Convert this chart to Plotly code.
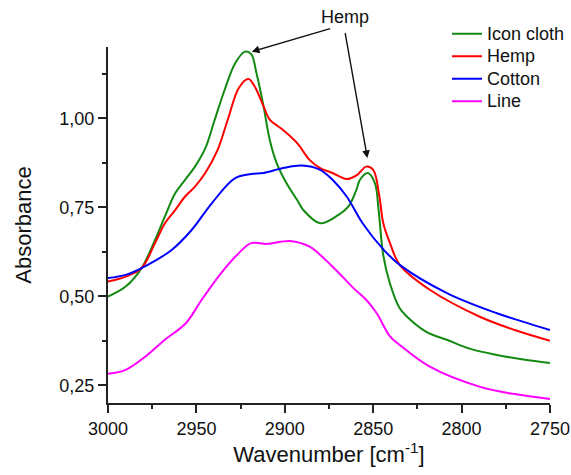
import plotly.graph_objects as go

# Data (wavenumber in cm^-1, absorbance)
icon_x = [3000, 2990, 2981, 2973.4, 2967.8, 2962, 2956.4, 2950.8, 2945, 2940, 2934, 2928, 2922.5, 2919, 2916, 2912,
          2908.5, 2904.6, 2899, 2893, 2889.5, 2880, 2871, 2864, 2859.5, 2857.5, 2853, 2849, 2847, 2844.3,
          2840.5, 2835, 2831, 2820, 2808, 2795, 2780, 2765, 2750]
icon_y = [0.499, 0.527, 0.579, 0.658, 0.724, 0.789, 0.827, 0.864, 0.915, 0.990, 1.080, 1.155, 1.187, 1.180, 1.126, 1.033,
          0.939, 0.874, 0.817, 0.770, 0.742, 0.705, 0.724, 0.752, 0.799, 0.827, 0.846, 0.817, 0.745, 0.615,
          0.535, 0.466, 0.443, 0.400, 0.377, 0.352, 0.335, 0.322, 0.312]

hemp_x = [3000, 2990, 2981, 2973.4, 2967.8, 2962, 2956.4, 2950.8, 2945, 2938, 2932, 2926, 2920.6, 2917, 2912, 2908.4,
          2904, 2901, 2893, 2886, 2880, 2873, 2865, 2859, 2854, 2850, 2846.5, 2844.3, 2840.5, 2835, 2818, 2790,
          2770, 2750]
hemp_y = [0.541, 0.555, 0.579, 0.649, 0.705, 0.742, 0.780, 0.808, 0.846, 0.911, 1.000, 1.085, 1.110, 1.089, 1.033, 0.995,
          0.978, 0.967, 0.930, 0.883, 0.860, 0.846, 0.829, 0.841, 0.864, 0.855, 0.780, 0.705, 0.649, 0.588, 0.518, 0.443,
          0.405, 0.375]

cotton_x = [3000, 2990, 2981, 2964, 2952.7, 2941.3, 2928.3, 2919, 2912, 2901, 2890.4, 2880, 2873, 2865, 2856, 2844,
            2835, 2808, 2780, 2765, 2750]
cotton_y = [0.551, 0.560, 0.579, 0.630, 0.686, 0.761, 0.831, 0.843, 0.846, 0.860, 0.867, 0.855, 0.827, 0.780, 0.705, 0.630,
            0.588, 0.508, 0.452, 0.428, 0.405]

line_x = [3000, 2990, 2979, 2968, 2956, 2947, 2936, 2926, 2919, 2910, 2897, 2886, 2873, 2861, 2854, 2848,
          2840.5, 2835, 2818, 2790, 2770, 2750]
line_y = [0.282, 0.293, 0.330, 0.377, 0.424, 0.490, 0.565, 0.621, 0.649, 0.647, 0.655, 0.639, 0.583, 0.522, 0.490, 0.452,
          0.387, 0.363, 0.302, 0.246, 0.225, 0.211]

series_names = ["Icon cloth", "Hemp", "Cotton", "Line"]
series_colors = ["#128a12", "#ff0000", "#0000ff", "#ff00ff"]
series_x = [icon_x, hemp_x, cotton_x, line_x]
series_y = [icon_y, hemp_y, cotton_y, line_y]

y_tickvals = [0.25, 0.50, 0.75, 1.00]
y_ticktext = ["0,25", "0,50", "0,75", "1,00"]
x_tickvals = [3000, 2950, 2900, 2850, 2800, 2750]
x_ticktext = ["3000", "2950", "2900", "2850", "2800", "2750"]

FONT = "Liberation Sans, Arial, sans-serif"

fig = go.Figure()
for name, col, xs, ys in zip(series_names, series_colors, series_x, series_y):
    fig.add_trace(go.Scatter(x=xs, y=ys, mode="lines",
                             name='<span style="font-size:18px">' + name + '</span>',
                             line=dict(color=col, width=2, shape="spline", smoothing=1.0)))

# "Hemp" label and arrows
fig.add_annotation(x=0.536, y=1.083, xref="paper", yref="paper", xanchor="center", yanchor="middle",
                   text="Hemp", showarrow=False, font=dict(size=18, color="#111", family=FONT))
fig.add_annotation(x=2918.7, y=1.187, ax=2873.5, ay=1.253, xref="x", yref="y", axref="x", ayref="y",
                   text="", showarrow=True, arrowhead=2, arrowsize=1.1, arrowwidth=1.4, arrowcolor="#111", standoff=0)
fig.add_annotation(x=2853.3, y=0.888, ax=2866, ay=1.243, xref="x", yref="y", axref="x", ayref="y",
                   text="", showarrow=True, arrowhead=2, arrowsize=1.1, arrowwidth=1.4, arrowcolor="#111", standoff=0)

fig.update_layout(
    width=571, height=475,
    margin=dict(l=108, r=21, t=47, b=72, autoexpand=False),
    paper_bgcolor="white", plot_bgcolor="white",
    font=dict(family=FONT, size=18, color="#111"),
    showlegend=True,
    legend=dict(x=0.767, y=1.083, xanchor="left", yanchor="top", bgcolor="rgba(0,0,0,0)",
                font=dict(size=15, family=FONT, color="#111"), tracegroupgap=0, itemwidth=30),
    xaxis=dict(range=[3000, 2750], autorange=False, showline=True, linewidth=2, linecolor="#222",
               showgrid=False, zeroline=False, ticks="outside", ticklen=8, tickwidth=2, tickcolor="#222",
               tickmode="array", tickvals=x_tickvals, ticktext=x_ticktext,
               minor=dict(ticks="outside", ticklen=4, tickwidth=2, tickcolor="#222", dtick=25, tick0=2750, showgrid=False),
               title=dict(text="Wavenumber [cm<sup>-1</sup>]", font=dict(size=22, family=FONT, color="#111"), standoff=2),
               tickfont=dict(size=18, family=FONT, color="#111")),
    yaxis=dict(range=[0.2, 1.2], autorange=False, showline=True, linewidth=2, linecolor="#222",
               showgrid=False, zeroline=False, ticks="outside", ticklen=8, tickwidth=2, tickcolor="#222",
               tickmode="array", tickvals=y_tickvals, ticktext=y_ticktext,
               minor=dict(ticks="outside", ticklen=4, tickwidth=2, tickcolor="#222", dtick=0.125, tick0=0.25, showgrid=False),
               title=dict(text="Absorbance", font=dict(size=22, family=FONT, color="#111"), standoff=22),
               tickfont=dict(size=18, family=FONT, color="#111")),
)

fig.write_html("out.html", config={"displayModeBar": False},
               post_script="document.body.style.margin='0px';")
